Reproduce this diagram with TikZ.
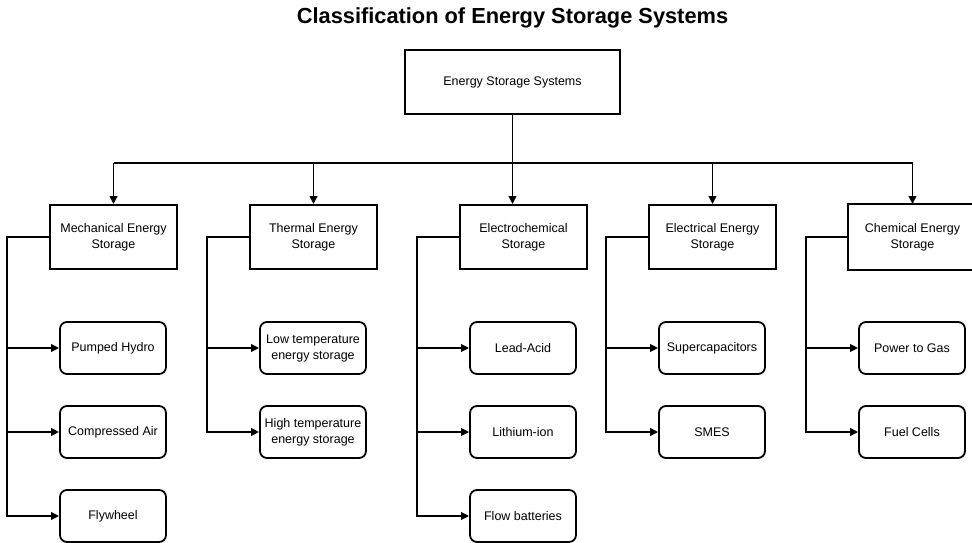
\documentclass[tikz,border=0pt]{standalone}
\usepackage{fontspec}
\setmainfont{Liberation Sans}
\usetikzlibrary{arrows.meta,calc}
\begin{document}
\begin{tikzpicture}[x=1pt,y=-1pt,
  lw/.style={line width=1.8pt},
  arr/.style={lw,-{Triangle[length=8pt,width=7.5pt]}},
  topbox/.style={draw,lw,minimum width=215pt,minimum height=64pt,inner sep=0pt,font=\fontsize{12.5}{14}\selectfont,align=center},
  catbox/.style={draw,lw,minimum width=127pt,minimum height=64pt,inner sep=0pt,font=\fontsize{12.5}{16}\selectfont,align=center},
  leafbox/.style={draw,lw,rounded corners=7pt,minimum width=106pt,minimum height=52pt,inner sep=0pt,font=\fontsize{12.5}{16}\selectfont,align=center},
  ttl/.style={font=\bfseries\fontsize{21.8}{24}\selectfont}]
\useasboundingbox (0,0) rectangle (972,543);
\node[ttl] (title) at (512.5,18) {Classification of Energy Storage Systems};
\node[topbox] (top) at (512.5,82) {Energy Storage Systems};
% categories
\node[catbox] (mech) at (113.5,237) {Mechanical Energy\\Storage};
\node[catbox] (therm) at (313.5,237) {Thermal Energy\\Storage};
\node[catbox] (echem) at (523.5,237) {Electrochemical\\Storage};
\node[catbox] (elec) at (712.5,237) {Electrical Energy\\Storage};
\node[catbox,draw=none] (chem) at (912.5,237) {Chemical Energy\\Storage};
\draw[lw] (chem.south west) rectangle ($(chem.north east)+(12,0)$);
% bus
\coordinate (busL) at (113.5,163);
\coordinate (busR) at (912.5,163);
\draw[lw] (top.south) -- (top.south |- busL);
\draw[lw] (busL) -- (busR);
\draw[arr] (busL) -- (mech.north);
\draw[arr] (therm.north |- busL) -- (therm.north);
\draw[arr] (top.south |- busL) -- (top.south |- echem.north);
\draw[arr] (elec.north |- busL) -- (elec.north);
\draw[arr] (busR) -- (chem.north);
% leaves
\node[leafbox] (m1) at (113,348) {Pumped Hydro};
\node[leafbox] (m2) at (113,432) {Compressed Air};
\node[leafbox] (m3) at (113,516) {Flywheel};
\node[leafbox] (t1) at (313,348) {Low temperature\\energy storage};
\node[leafbox] (t2) at (313,432) {High temperature\\energy storage};
\node[leafbox] (e1) at (523,348) {Lead-Acid};
\node[leafbox] (e2) at (523,432) {Lithium-ion};
\node[leafbox] (e3) at (523,516) {Flow batteries};
\node[leafbox] (l1) at (712,348) {Supercapacitors};
\node[leafbox] (l2) at (712,432) {SMES};
\node[leafbox] (c1) at (912,348) {Power to Gas};
\node[leafbox] (c2) at (912,432) {Fuel Cells};
% branches
\coordinate (mb) at ($(mech.west)+(-42,0)$);
\coordinate (tb) at ($(therm.west)+(-42,0)$);
\coordinate (eb) at ($(echem.west)+(-42,0)$);
\coordinate (lb) at ($(elec.west)+(-42,0)$);
\coordinate (cb) at ($(chem.west)+(-42,0)$);
\draw[arr] (mech.west) -- (mb) |- (m3.west);
\draw[arr] (mb |- m1.west) -- (m1.west);
\draw[arr] (mb |- m2.west) -- (m2.west);
\draw[arr] (therm.west) -- (tb) |- (t2.west);
\draw[arr] (tb |- t1.west) -- (t1.west);
\draw[arr] (echem.west) -- (eb) |- (e3.west);
\draw[arr] (eb |- e1.west) -- (e1.west);
\draw[arr] (eb |- e2.west) -- (e2.west);
\draw[arr] (elec.west) -- (lb) |- (l2.west);
\draw[arr] (lb |- l1.west) -- (l1.west);
\draw[arr] (chem.west) -- (cb) |- (c2.west);
\draw[arr] (cb |- c1.west) -- (c1.west);
\end{tikzpicture}
\end{document}
